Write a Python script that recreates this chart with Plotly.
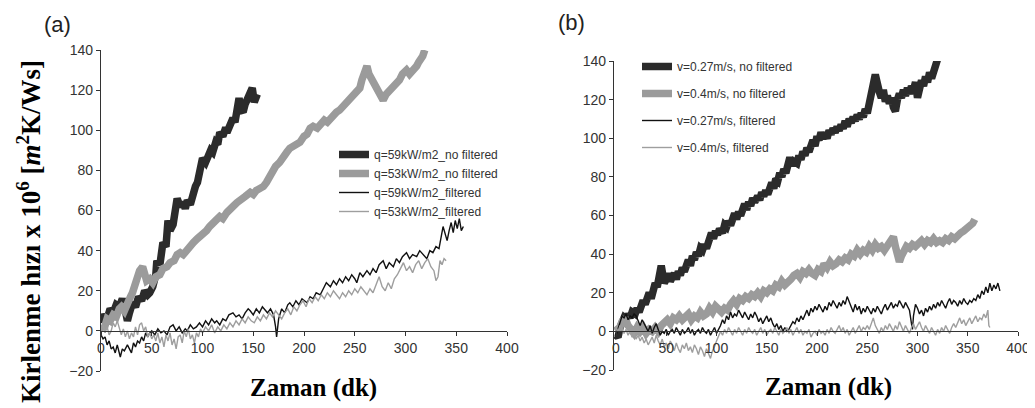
import plotly.graph_objects as go

# The page body has an 8px margin, so the figure is drawn 8px in from the window edge.
PAGE_W, PAGE_H, BODY = 1035, 408, 8
W, H = PAGE_W - BODY, PAGE_H - BODY

# ---------------- data ----------------
X_TICKS = [0, 50, 100, 150, 200, 250, 300, 350, 400]
Y_TICKS = [-20, 0, 20, 40, 60, 80, 100, 120, 140]

NAMES_A = ["q=59kW/m2_no filtered", "q=53kW/m2_no filtered",
           "q=59kW/m2_filtered", "q=53kW/m2_filtered"]
NAMES_B = ["v=0.27m/s, no filtered", "v=0.4m/s, no filtered",
           "v=0.27m/s, filtered", "v=0.4m/s, filtered"]

A_Q59_RAW = [(0,4),(3,8),(6,6),(9,11),(12,9),(15,13),(18,12),(21,16),(24,10),(26,5),(28,9),(31,14),
             (34,12),(37,17),(40,15),(43,20),(46,18),(48,19),(51,22),(54,28),(55,35),(58,33),(61,44),
             (64,42),(66,55),(68,50),(71,53),(73,60),(75,66),(78,62),(81,64),(83,61),(85,65),(88,63),
             (91,70),(93,72),(95,74),(98,80),(100,86),(103,84),(106,88),(108,90),(110,89),(113,94),
             (115,93),(117,99),(120,97),(122,100),(125,100),(127,103),(130,106),(132,104),(134,109),
             (136,116),(138,110),(140,109),(142,113),(145,117),(147,119),(149,121),(151,114),(154,118)]

A_Q53_RAW = [(0,3),(3,1),(6,6),(9,5),(12,8),(15,7),(18,11),(20,12),(23,10),(26,15),(29,17),(31,19),
             (34,24),(36,27),(38,30),(41,32),(43,27),(45,25),(48,26),(51,24),(54,27),(58,28),(61,31),
             (65,32),(68,34),(72,35),(75,38),(78,39),(81,38),(85,41),(88,43),(91,44),(95,46),(98,47),
             (101,49),(104,50),(107,52),(110,53),(113,55),(117,57),(120,56),(124,59),(127,61),(130,62),
             (134,64),(138,65),(142,67),(147,69),(150,68),(153,70),(157,71),(160,72),(163,74),(165,76),
             (167,79),(169,80),(172,82),(176,84),(179,87),(183,89),(186,91),(190,92),(193,93),(196,94),
             (200,97),(203,98),(206,101),(209,102),(213,101),(216,103),(220,105),(223,104),(226,106),
             (229,107),(232,109),(235,110),(239,112),(242,114),(245,116),(248,117),(252,119),(255,121),
             (257,125),(259,128),(261,131),(262,132),(264,128),(265,127),(267,125),(268,124),(271,121),
             (273,119),(276,117),(278,115),(281,118),(283,119),(286,121),(288,122),(291,124),(294,125),
             (297,128),(301,130),(304,128),(306,129),(309,131),(311,132),(313,134),(315,135),(317,137),
             (319,140)]

A_Q59_FIL = [(0,-2),(2,-4),(4,-3),(6,-7),(8,-5),(10,-9),(12,-8),(14,-11),(16,-7),(18,-12),(19,-13),
             (21,-9),(23,-10),(26,-7),(28,-9),(30,-11),(32,-6),(34,-8),(36,-5),(38,-6),(40,-3),(42,-5),
             (44,-1),(46,-3),(48,-1),(50,0),(53,-2),(56,1),(59,-1),(62,0),(65,-2),(68,2),(71,3),(74,0),
             (77,2),(80,-1),(83,1),(85,0),(88,3),(91,1),(94,2),(97,4),(100,2),(103,5),(106,3),(109,6),
             (112,4),(114,5),(117,3),(120,6),(123,5),(126,8),(130,9),(133,7),(136,8),(139,6),(142,9),
             (145,11),(147,10),(150,8),(153,11),(156,9),(159,12),(162,10),(164,9),(167,11),(170,8),
             (172,2),(173,-3),(175,6),(178,11),(181,9),(184,13),(186,14),(189,12),(192,15),(195,13),
             (198,16),(201,15),(203,14),(206,17),(209,16),(212,19),(216,18),(219,21),(222,24),(226,22),
             (229,25),(232,23),(235,26),(238,24),(241,27),(244,25),(247,28),(250,26),(252,24),(255,29),
             (258,27),(262,30),(265,28),(268,31),(271,29),(274,33),(278,35),(281,31),(284,34),(288,32),
             (291,36),(294,34),(297,37),(301,39),(304,36),(307,38),(311,37),(314,40),(318,38),(321,36),
             (324,40),(327,39),(330,42),(333,41),(337,52),(339,48),(341,45),(343,50),(345,54),(347,49),
             (349,55),(351,51),(353,56),(355,50),(357,52)]

A_Q53_FIL = [(0,1),(2,3),(4,-1),(6,2),(8,-2),(10,0),(12,4),(14,2),(16,5),(18,1),(20,-2),(22,1),(24,-3),
             (26,0),(28,-4),(30,-1),(32,-3),(34,2),(36,-2),(38,3),(40,4),(42,0),(44,2),(46,-3),(48,-1),
             (50,-4),(52,-2),(54,-5),(56,-1),(58,-6),(60,-3),(62,-8),(64,-2),(66,-5),(68,-1),(70,-7),
             (72,-4),(74,-9),(76,-3),(78,-2),(80,-6),(82,0),(84,-3),(86,1),(88,-4),(90,-2),(92,-6),
             (94,-1),(96,-3),(98,1),(100,-1),(103,2),(106,0),(109,3),(112,-1),(115,2),(118,0),(121,3),
             (124,1),(127,4),(130,2),(133,5),(136,3),(139,6),(142,4),(145,7),(148,5),(151,4),(154,7),
             (157,5),(160,8),(163,6),(166,9),(169,7),(172,10),(175,8),(178,6),(181,9),(184,11),(187,8),
             (190,12),(193,10),(196,13),(199,15),(202,12),(205,16),(208,14),(211,17),(214,15),(217,18),
             (220,16),(223,19),(226,17),(229,20),(232,18),(235,16),(238,19),(241,17),(244,20),(247,18),
             (250,21),(253,19),(256,22),(259,20),(262,18),(265,21),(268,19),(271,23),(274,27),(277,22),
             (280,20),(283,24),(286,21),(289,26),(292,28),(295,31),(298,34),(301,30),(304,32),(307,29),
             (310,33),(313,35),(316,31),(319,34),(322,36),(325,32),(328,30),(330,25),(332,27),(334,35),
             (336,33),(338,36),(340,35)]

B_V27_RAW = [(0,-2),(2,-3),(4,2),(6,5),(8,7),(10,6),(12,9),(14,7),(16,10),(19,9),(21,12),(23,10),(25,13),
             (27,16),(29,14),(31,18),(33,20),(35,17),(37,22),(39,25),(41,23),(43,29),(45,34),(47,28),
             (48,25),(50,27),(52,30),(54,26),(56,28),(58,30),(60,27),(62,31),(64,29),(66,33),(68,31),
             (70,35),(72,37),(74,34),(76,39),(78,37),(80,41),(82,39),(84,43),(86,42),(88,45),(90,43),
             (92,47),(95,51),(97,48),(99,52),(101,50),(103,53),(106,51),(108,55),(110,54),(112,57),
             (114,55),(116,59),(118,61),(120,58),(122,62),(124,60),(126,64),(128,66),(130,63),(132,67),
             (134,65),(136,69),(138,67),(141,70),(143,68),(145,72),(147,70),(149,73),(151,71),(153,75),
             (155,77),(157,74),(159,79),(161,78),(163,82),(165,80),(167,84),(169,82),(171,87),(173,90),
             (175,86),(177,88),(180,87),(182,91),(184,89),(186,93),(188,91),(190,95),(192,93),(194,97),
             (196,99),(198,96),(200,101),(202,99),(204,103),(206,100),(208,102),(210,100),(212,104),
             (214,102),(216,105),(218,103),(220,106),(222,104),(224,107),(226,105),(228,109),(230,106),
             (232,110),(234,108),(236,111),(238,109),(240,112),(242,110),(244,113),(246,111),(248,115),
             (250,113),(252,117),(254,122),(256,128),(258,133),(260,126),(262,124),(264,121),(266,125),
             (268,119),(270,122),(272,118),(274,121),(276,116),(278,114),(280,120),(282,123),(284,121),
             (286,125),(288,122),(290,126),(292,123),(294,127),(296,125),(298,129),(300,121),(302,126),
             (304,130),(306,127),(308,132),(310,129),(312,134),(314,131),(316,136),(318,138),(320,141)]

B_V04_RAW = [(0,3),(3,1),(6,5),(9,7),(12,3),(15,0),(18,-1),(21,2),(24,0),(27,2),(30,-1),(33,1),(36,0),
             (39,2),(42,0),(45,3),(48,5),(51,6),(54,4),(57,7),(60,6),(63,8),(66,6),(69,7),(72,9),(75,6),
             (78,8),(81,7),(84,10),(87,8),(90,9),(93,12),(96,10),(99,13),(102,11),(105,10),(108,12),
             (111,11),(114,14),(117,16),(120,14),(123,17),(126,16),(129,18),(132,17),(135,19),(138,18),
             (141,20),(144,18),(147,21),(150,20),(153,22),(156,21),(159,24),(162,23),(165,26),(168,24),
             (171,25),(174,27),(177,29),(180,30),(183,28),(186,31),(189,30),(192,32),(195,30),(198,29),
             (201,32),(204,31),(207,35),(210,33),(213,36),(216,34),(219,35),(222,37),(225,36),(228,38),
             (231,37),(234,40),(237,39),(240,42),(243,40),(246,42),(249,41),(252,44),(255,42),(258,45),
             (261,43),(264,44),(267,42),(270,45),(273,46),(276,49),(278,44),(280,40),(282,36),(284,39),
             (286,42),(289,44),(292,43),(295,45),(298,44),(301,46),(304,47),(307,45),(310,47),(313,46),
             (316,48),(319,46),(322,47),(325,46),(328,48),(331,47),(334,49),(337,48),(340,50),(343,51),
             (346,52),(349,53),(352,55),(355,56),(357,58)]

B_V27_FIL = [(0,-2),(2,1),(4,5),(6,8),(8,7),(10,9),(12,6),(14,8),(16,7),(18,9),(20,8),(22,5),(24,3),
             (26,6),(28,4),(30,2),(32,0),(34,3),(36,-1),(38,2),(40,4),(42,1),(44,-2),(46,0),(48,-1),
             (50,1),(52,-2),(54,0),(56,1),(58,-1),(60,2),(62,0),(64,-2),(66,1),(68,-1),(70,0),(72,2),
             (74,-1),(76,1),(78,-2),(80,0),(82,1),(84,-1),(86,2),(88,0),(90,-1),(92,1),(94,-2),(96,0),
             (98,2),(100,-1),(102,1),(104,3),(106,6),(108,4),(110,8),(112,6),(114,10),(116,7),(118,9),
             (120,8),(122,11),(124,9),(126,7),(128,10),(130,8),(132,6),(134,9),(136,7),(138,10),(140,8),
             (142,5),(144,7),(146,4),(148,6),(150,8),(152,5),(154,7),(156,4),(158,2),(160,4),(162,1),
             (164,3),(166,0),(168,2),(170,0),(172,1),(174,3),(176,5),(178,4),(180,7),(182,5),(184,8),
             (186,6),(188,9),(190,11),(192,8),(194,12),(196,10),(198,13),(200,11),(202,14),(204,12),
             (206,10),(208,13),(210,11),(212,15),(214,13),(216,16),(218,14),(220,12),(222,15),(224,13),
             (226,16),(228,14),(230,18),(232,15),(234,12),(236,10),(238,14),(240,11),(242,13),(244,9),
             (246,12),(248,10),(250,13),(252,11),(254,9),(256,12),(258,10),(260,13),(262,11),(264,9),
             (266,12),(268,14),(270,11),(272,13),(274,15),(276,12),(278,14),(280,13),(282,16),(284,14),
             (286,12),(288,15),(290,13),(292,11),(294,4),(295,1),(296,8),(298,14),(300,12),(302,9),
             (304,11),(306,8),(308,12),(310,10),(312,13),(314,11),(316,14),(318,12),(320,15),(322,13),
             (324,16),(326,14),(328,12),(330,15),(332,17),(334,14),(336,16),(338,15),(340,13),(342,16),
             (344,14),(346,17),(348,15),(350,14),(352,16),(354,15),(356,17),(358,16),(360,19),(362,17),
             (364,21),(366,19),(368,23),(370,20),(372,25),(374,21),(376,24),(378,22),(380,25),(382,21)]

B_V04_FIL = [(0,2),(2,0),(4,3),(6,1),(8,-1),(10,1),(12,-2),(14,0),(16,-3),(18,-1),(20,-4),(22,-2),
             (24,-5),(26,-3),(28,-6),(30,-4),(32,-7),(34,-5),(36,-3),(38,-6),(40,-2),(42,-5),(44,-7),
             (46,-4),(48,-8),(50,-6),(52,-9),(54,-5),(56,-7),(58,-10),(60,-6),(62,-9),(64,-11),(66,-7),
             (68,-9),(70,-6),(72,-10),(74,-8),(76,-11),(78,-7),(80,-9),(82,-12),(84,-8),(86,-10),(88,-13),
             (90,-9),(92,-12),(94,-14),(96,-10),(98,-8),(100,-5),(102,-2),(104,0),(106,-2),(108,1),
             (110,-1),(112,2),(114,0),(116,-2),(118,1),(120,-1),(122,2),(124,0),(126,-2),(128,1),(130,-1),
             (132,2),(134,0),(136,-1),(138,1),(140,-2),(142,0),(144,2),(146,-1),(148,1),(150,-2),(152,0),
             (154,1),(156,-1),(158,2),(160,0),(162,-2),(164,1),(166,-1),(168,0),(170,2),(172,-1),(174,1),
             (176,-2),(178,0),(180,2),(182,-1),(184,1),(186,-2),(188,0),(190,-1),(192,1),(194,-3),(196,-1),
             (198,0),(200,-2),(202,1),(204,-1),(206,0),(208,-2),(210,1),(212,-1),(214,2),(216,0),(218,-1),
             (220,1),(222,3),(224,0),(226,2),(228,-1),(230,1),(232,-2),(234,0),(236,2),(238,-1),(240,1),
             (242,3),(244,0),(246,2),(248,1),(250,3),(252,1),(254,4),(256,7),(258,3),(260,1),(262,-1),
             (264,2),(266,0),(268,3),(270,1),(272,4),(274,2),(276,0),(278,3),(280,1),(282,5),(284,2),
             (286,0),(288,3),(290,1),(292,-1),(294,2),(296,4),(298,1),(300,3),(302,5),(304,2),(306,0),
             (308,3),(310,1),(312,-1),(314,2),(316,0),(318,-2),(320,1),(322,-1),(324,2),(326,0),(328,3),
             (330,1),(332,-1),(334,2),(336,4),(338,2),(340,5),(342,7),(344,4),(346,6),(348,3),(350,5),
             (352,7),(354,4),(356,6),(358,8),(360,5),(362,7),(364,6),(366,9),(368,7),(370,11),(371,3),(372,2)]

SERIES_A = [A_Q59_RAW, A_Q53_RAW, A_Q59_FIL, A_Q53_FIL]
SERIES_B = [B_V27_RAW, B_V04_RAW, B_V27_FIL, B_V04_FIL]

# ---------------- styles ----------------
COLORS = ["#2b2b2b", "#9b9b9b", "#111111", "#9e9e9e"]
WIDTHS = [7.5, 7.5, 1.4, 1.4]

fig = go.Figure()

for i, (pts, name) in enumerate(zip(SERIES_A, NAMES_A)):
    xs, ys = zip(*pts)
    fig.add_trace(go.Scatter(x=list(xs), y=list(ys), mode="lines", name=name,
                             line=dict(color=COLORS[i], width=WIDTHS[i]),
                             xaxis="x", yaxis="y", legend="legend"))

for i, (pts, name) in enumerate(zip(SERIES_B, NAMES_B)):
    xs, ys = zip(*pts)
    fig.add_trace(go.Scatter(x=list(xs), y=list(ys), mode="lines", name=name,
                             line=dict(color=COLORS[i], width=WIDTHS[i]),
                             xaxis="x2", yaxis="y2", legend="legend2",
                             legendgroup="b%d" % i))

def px_x(p):
    return (p - BODY) / W

def px_y(p):
    return 1 - (p - BODY) / H

tickfont = dict(family="Liberation Sans, Arial, sans-serif", size=14, color="#333333")
axis_common = dict(showline=True, linecolor="#333333", linewidth=1.3, ticks="outside",
                   ticklen=4, tickwidth=1.2, tickcolor="#333333", showgrid=False,
                   zeroline=False, tickfont=tickfont, automargin=False)

fig.update_layout(
    width=W, height=H,
    margin=dict(l=0, r=0, t=0, b=0, autoexpand=False),
    paper_bgcolor="white", plot_bgcolor="white",
    showlegend=True,
    xaxis=dict(domain=[px_x(100), px_x(507)], range=[-1, 400], tickvals=X_TICKS,
               anchor="free", position=px_y(331), **axis_common),
    yaxis=dict(domain=[px_y(371), px_y(50)], range=[-20, 140], tickvals=Y_TICKS,
               anchor="free", position=px_x(100), **axis_common),
    xaxis2=dict(domain=[px_x(613), px_x(1018)], range=[-3, 400], tickvals=X_TICKS,
                anchor="free", position=px_y(331), **axis_common),
    yaxis2=dict(domain=[px_y(370), px_y(61)], range=[-20, 140], tickvals=Y_TICKS,
                anchor="free", position=px_x(613), **axis_common),
    legend=dict(x=px_x(334), y=px_y(140), xanchor="left", yanchor="top",
                bgcolor="rgba(0,0,0,0)", borderwidth=0,
                font=dict(family="Liberation Sans, Arial, sans-serif", size=12, color="#333333")),
    legend2=dict(x=px_x(637), y=px_y(52), xanchor="left", yanchor="top",
                 bgcolor="rgba(0,0,0,0)", borderwidth=0, tracegroupgap=8,
                 font=dict(family="Liberation Sans, Arial, sans-serif", size=12, color="#333333")),
)

serif = "Liberation Serif, Times New Roman, serif"
annotations = [
    dict(text="(a)", x=px_x(57), y=px_y(25),
         font=dict(family="Liberation Sans, Arial, sans-serif", size=22, color="#222222")),
    dict(text="(b)", x=px_x(571), y=px_y(23),
         font=dict(family="Liberation Sans, Arial, sans-serif", size=22, color="#222222")),
    dict(text="<b>Zaman (dk)</b>", x=px_x(313), y=px_y(388),
         font=dict(family=serif, size=25, color="black")),
    dict(text="<b>Zaman (dk)</b>", x=px_x(828), y=px_y(387),
         font=dict(family=serif, size=25, color="black")),
    dict(text="<b>Kirlenme hızı x 10<sup>6</sup> [<i>m</i><sup>2</sup>K/Ws]</b>",
         x=px_x(29), y=px_y(232), textangle=-90,
         font=dict(family=serif, size=27, color="black")),
]
for a in annotations:
    fig.add_annotation(xref="paper", yref="paper", xanchor="center", yanchor="middle",
                       showarrow=False, **a)

fig.write_html("out.html")
